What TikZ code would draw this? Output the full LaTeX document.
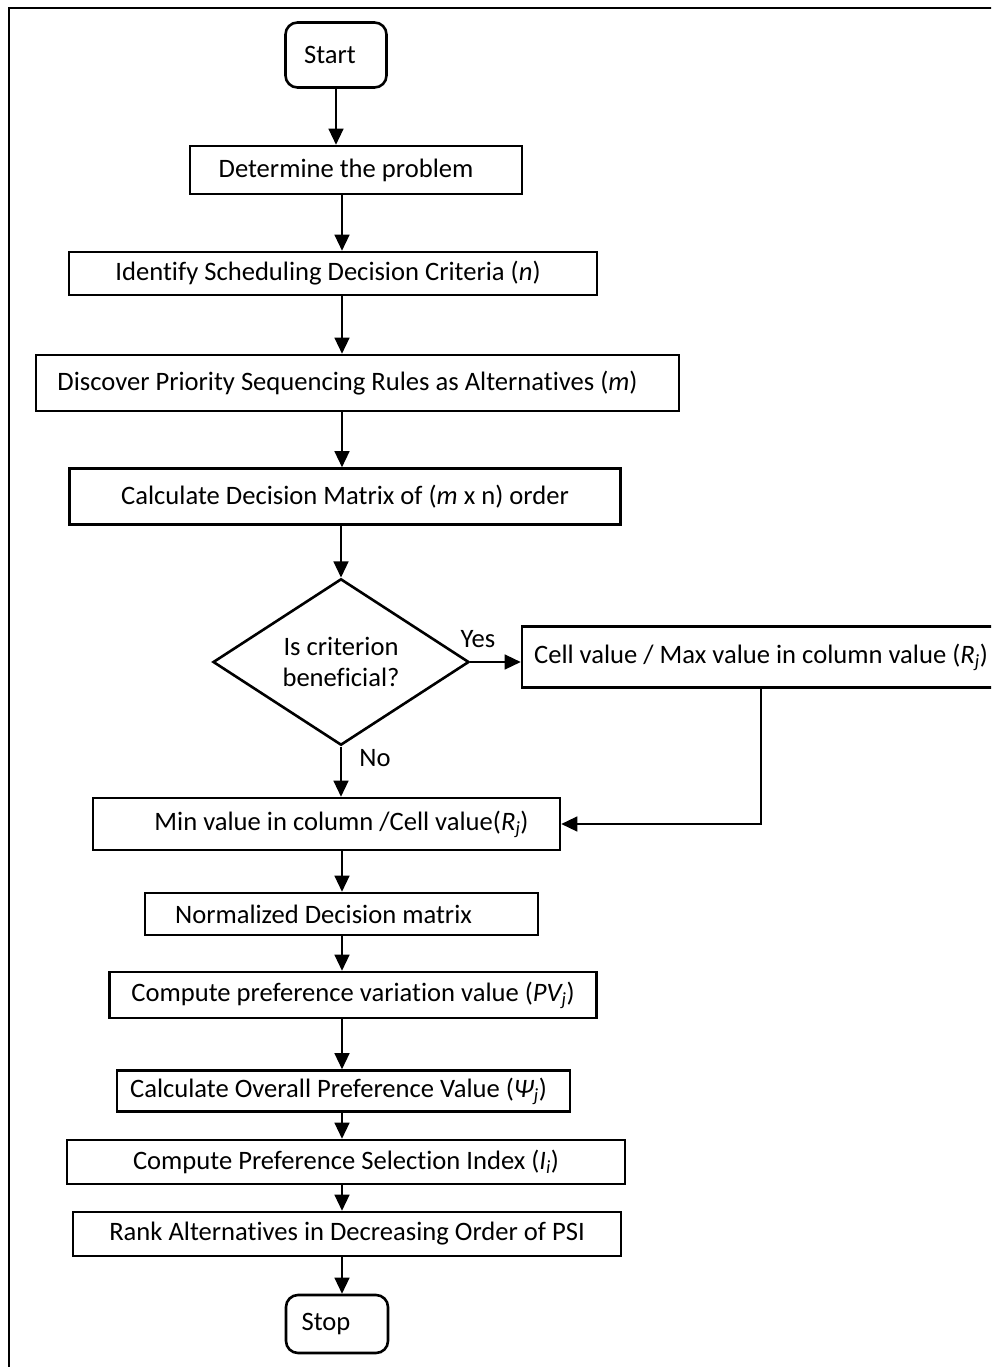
\documentclass[tikz,border=0pt]{standalone}
\usepackage{fontspec}
\setmainfont{Carlito}[Ligatures=NoCommon]
\usetikzlibrary{arrows.meta,shapes.geometric}
\begin{document}
\begin{tikzpicture}[x=1pt,y=-1pt,
  every node/.style={font=\fontsize{26.6}{31}\selectfont, inner sep=0pt},
  box/.style={draw, line width=2.6pt, rectangle},
  term/.style={draw, line width=2.6pt, rectangle, rounded corners=12pt},
  decision/.style={draw, line width=2.6pt, diamond, align=center},
  flow/.style={line width=1.3pt, -{Triangle[length=16pt,width=15pt]}},
  lbl/.style={}]
\clip (0,0) rectangle (991,1367);
\fill[white] (0,0) rectangle (991,1367);
\draw[line width=2.8pt] (9,1400) -- (9,8) -- (1010,8);
\coordinate (axis) at (342,0);
\node[term, minimum width=101pt, minimum height=65pt] (start) at (336,55) {Start\hspace*{12pt}};
\node[box, minimum width=332pt, minimum height=48pt] (det) at (356,170) {Determine the problem\hspace*{20pt}};
\node[box, minimum width=528pt, minimum height=43pt] (ident) at (333,273.5) {Identify Scheduling Decision Criteria ({\itshape n})\hspace*{10pt}};
\node[box, minimum width=643pt, minimum height=56pt] (disc) at (357.5,383) {Discover Priority Sequencing Rules as Alternatives ({\itshape m})\hspace*{20pt}};
\node[box, minimum width=551pt, minimum height=56pt] (calc) at (345,496.5) {Calculate Decision Matrix of ({\itshape m} x n) order};
\node[decision, minimum width=256pt, minimum height=159pt] (dia) at (341,662) {Is criterion\\beneficial?};
\node[box, minimum width=478pt, minimum height=61pt] (cell) at (761,657) {Cell value / Max value in column value ({\itshape R}\textsubscript{\itshape j})};
\node[box, minimum width=467pt, minimum height=52pt] (min) at (326.5,824) {\hspace*{30pt}Min value in column /Cell value({\itshape R}\textsubscript{\itshape j})};
\node[box, minimum width=393pt, minimum height=42pt] (norm) at (341.5,914) {Normalized Decision matrix\hspace*{36pt}};
\node[box, minimum width=487pt, minimum height=46pt] (pv) at (353,995) {Compute preference variation value ({\itshape PV}\textsubscript{\itshape j})};
\node[box, minimum width=453pt, minimum height=41pt] (over) at (343.5,1091) {Calculate Overall Preference Value ({\itshape Ψ}\textsubscript{\itshape j})\hspace*{10pt}};
\node[box, minimum width=558pt, minimum height=44pt] (psi) at (346,1162) {Compute Preference Selection Index ({\itshape I}\textsubscript{\itshape i})};
\node[box, minimum width=548pt, minimum height=44pt] (rank) at (347,1234) {Rank Alternatives in Decreasing Order of PSI};
\node[term, minimum width=102pt, minimum height=58pt] (stop) at (337,1324) {Stop\hspace*{22pt}};
\node[lbl] (yes) at (478,639) {Yes};
\node[lbl] (no) at (375,758) {No};
\draw[flow] (start.south) -- (start.south |- det.north);
\draw[flow] (det.south -| axis) -- (ident.north -| axis);
\draw[flow] (ident.south -| axis) -- (disc.north -| axis);
\draw[flow] (disc.south -| axis) -- (calc.north -| axis);
\draw[flow] (calc.south -| dia.north) -- (dia.north);
\draw[flow] (dia.east) -- (dia.east -| cell.west);
\draw[flow] (dia.south) -- (dia.south |- min.north);
\draw[flow] (cell.south) |- (min.east);
\draw[flow] (min.south -| axis) -- (norm.north -| axis);
\draw[flow] (norm.south -| axis) -- (pv.north -| axis);
\draw[flow] (pv.south -| axis) -- (over.north -| axis);
\draw[flow] (over.south -| axis) -- (psi.north -| axis);
\draw[flow] (psi.south -| axis) -- (rank.north -| axis);
\draw[flow] (rank.south -| axis) -- (stop.north -| axis);
\end{tikzpicture}
\end{document}
